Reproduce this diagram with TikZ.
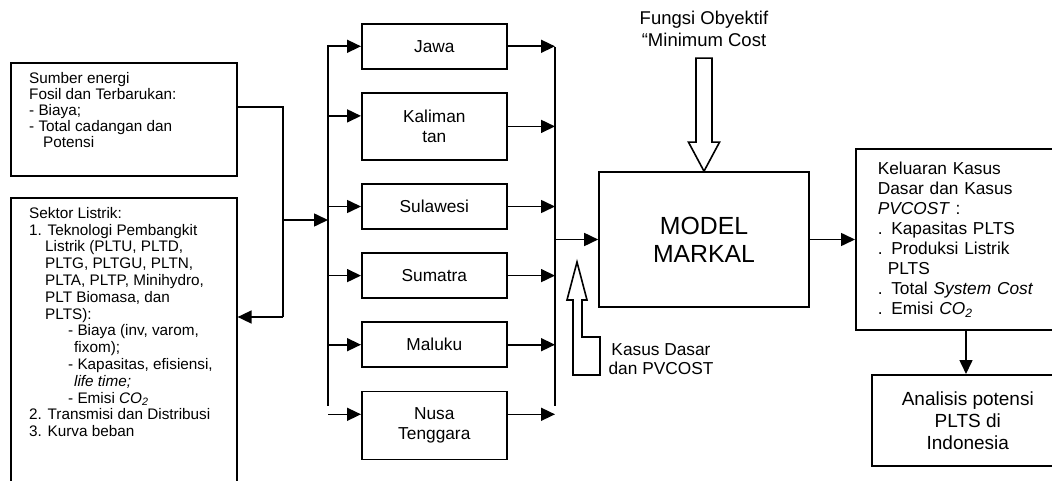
\documentclass[tikz,border=0pt]{standalone}
\usepackage{fontspec}
\setmainfont{Liberation Sans}
\usetikzlibrary{arrows.meta,positioning,calc}

\tikzset{
  line/.style={line width=1.6pt},
  box/.style={draw, line, inner sep=0pt},
  region/.style={box, minimum width=145pt, minimum height=45pt, align=center,
    font=\fontsize{17.3}{20}\selectfont},
  boxtext/.style={anchor=north west, inner sep=0pt, align=left},
  arr/.style={line, -{Triangle[length=14pt,width=13pt]}},
}

\begin{document}
\begin{tikzpicture}[x=1pt, y=-1pt, node distance=22.5pt]
  \clip (0,0) rectangle (1052,481);
  % input boxes
  \node [box, anchor=north west, minimum width=226pt, minimum height=113pt] (sumber) at (10,62) {};
  \node [boxtext, font=\fontsize{15.3}{16}\selectfont] (sumbertxt) at (29,72)
    {Sumber energi\\ Fosil dan Terbarukan:\\ - Biaya;\\ - Total cadangan dan\\
     \hspace*{14pt}Potensi};
  \node [box, anchor=north west, minimum width=226pt, minimum height=340pt] (sektor) at (10,197) {};
  \node [boxtext, font=\fontsize{15.3}{16.8}\selectfont] (sektortxt) at (29,207)
    {Sektor Listrik:\\
     1. Teknologi Pembangkit\\
     \hspace*{16pt}Listrik (PLTU, PLTD,\\
     \hspace*{16pt}PLTG, PLTGU, PLTN,\\
     \hspace*{16pt}PLTA, PLTP, Minihydro,\\
     \hspace*{16pt}PLT Biomasa, dan\\
     \hspace*{16pt}PLTS):\\
     \hspace*{39pt}- Biaya (inv, varom,\\
     \hspace*{45pt}fixom);\\
     \hspace*{39pt}- Kapasitas, efisiensi,\\
     \hspace*{45pt}\textit{life time;}\\
     \hspace*{39pt}- Emisi \textit{CO}\textsubscript{\textit{2}}\\
     2. Transmisi dan Distribusi\\
     3. Kurva beban};

  % regions
  \node [region, anchor=north west] (jawa) at (361,23) {Jawa};
  \node [region, minimum height=67pt, below=of jawa] (kalimantan) {Kaliman\\ tan};
  \node [region, below=of kalimantan] (sulawesi) {Sulawesi};
  \node [region, below=of sulawesi] (sumatra) {Sumatra};
  \node [region, below=of sumatra] (maluku) {Maluku};
  \node [region, minimum height=68pt, below=of maluku] (nusa) {Nusa\\ Tenggara};

  % model and outputs
  \node [box, minimum width=210pt, minimum height=135pt, align=center,
    font=\fontsize{24.8}{28}\selectfont] (model) at (704,239.5) {MODEL\\ MARKAL};
  \node [align=center, inner sep=0pt, font=\fontsize{18.5}{22}\selectfont]
    (fungsi) at (704,29) {Fungsi Obyektif\\ “Minimum Cost};
  \node [box, anchor=west, minimum width=214pt, minimum height=181pt,
    text width=170pt, inner xsep=22pt, align=left,
    font=\fontsize{17.3}{20}\selectfont] (keluaran) at (855,239.5)
    {Keluaran Kasus\\ Dasar dan Kasus\\ \textit{PVCOST} :\\ . Kapasitas PLTS\\
     . Produksi Listrik\\ \hspace*{10pt}PLTS\\ . Total \textit{System Cost}\\
     . Emisi \textit{CO}\textsubscript{\textit{2}}};
  \node [box, anchor=north west, minimum width=192pt, minimum height=91pt,
    align=center, font=\fontsize{19}{22}\selectfont] (analisis) at (871,374)
    {Analisis potensi\\ PLTS di\\ Indonesia};
  \node [align=center, inner sep=0pt, font=\fontsize{17.3}{19}\selectfont]
    (kasus) at (661,359) {Kasus Dasar\\ dan PVCOST};

  % buses
  \coordinate (split) at (283,107);
  \coordinate (lbtop) at (328,45);
  \coordinate (lbbot) at (328,406);
  \coordinate (rbtop) at (555,47);
  \coordinate (rbbot) at (555,406);
  \coordinate (kalin) at ($(kalimantan.west)+(0,-10.5)$);
  \coordinate (nusain) at ($(nusa.west)+(0,-11)$);
  \coordinate (nusaout) at ($(nusa.east)+(0,-11)$);

  \draw [line] (sumber.east |- split) -- (split) -- (split |- 0,317) coordinate (sekin);
  \draw [arr] (sekin) -- (sektor.east |- sekin);
  \draw [arr] (split |- 0,220) -- (lbtop |- 0,220);
  \draw [line] (lbtop) -- (lbbot);
  \draw [line] (rbtop) -- (rbbot);
  \foreach \r in {jawa, sulawesi, sumatra, maluku}
    \draw [arr] (lbtop |- \r.west) -- (\r.west);
  \draw [arr] (lbtop |- kalin) -- (kalin);
  \draw [arr] (lbtop |- nusain) -- (nusain);
  \foreach \r in {jawa, kalimantan, sulawesi, sumatra, maluku}
    \draw [arr] (\r.east) -- (rbtop |- \r.east);
  \draw [arr] (nusaout) -- (rbtop |- nusaout);
  \draw [arr] (rbtop |- model.west) -- (model.west);
  \draw [arr] (model.east) -- (keluaran.west |- model.east);
  \draw [arr] (analisis.north -| 966,0) ++(0,-44) -- (analisis.north -| 966,0);

  % hollow arrows
  \draw [line] (model.north) -- ++(-15.5,-29) -- ++(7.5,0) -- ++(0,-84)
    -- ++(16,0) -- ++(0,84) -- ++(7.5,0) -- cycle;
  \coordinate (kasustip) at (577,262);
  \draw [line] (kasustip) -- ++(10,38) -- ++(-5,0) -- ++(0,37) -- ++(18,0)
    -- ++(0,38) -- ++(-27,0) -- ++(0,-75) -- ++(-6,0) -- cycle;
\end{tikzpicture}
\end{document}
